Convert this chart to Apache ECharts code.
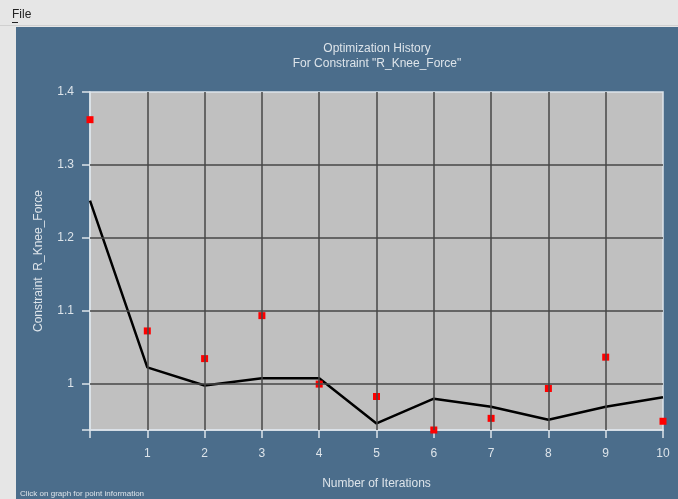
<!DOCTYPE html>
<html>
<head>
<meta charset="utf-8">
<script src="https://cdn.jsdelivr.net/npm/echarts@6/dist/echarts.min.js"></script>
<style>
  html, body { margin: 0; padding: 0; background: #e6e6e6; }
  #chart { width: 678px; height: 499px; }
</style>
</head>
<body>
<div id="chart"></div>
<script>
// iteration numbers on the x axis
var iterations = [0, 1, 2, 3, 4, 5, 6, 7, 8, 9, 10]
// black line
var lineValues = [1.251, 1.022, 0.997, 1.007, 1.007, 0.945, 0.979, 0.968, 0.950, 0.968, 0.981]
// red squares
var pointValues = [1.362, 1.072, 1.034, 1.093, 0.999, 0.982, 0.936, 0.952, 0.993, 1.036, 0.948]
// y axis
var yTicks = [0.936, 1.0, 1.1, 1.2, 1.3, 1.4]
var yLabels = [1.0, 1.1, 1.2, 1.3, 1.4]
var yGrid = [1.0, 1.1, 1.2, 1.3]
var xGrid = [1, 2, 3, 4, 5, 6, 7, 8, 9]

var panel = '#4b6d8b'
var light = '#dde4ea'
var font = 'Liberation Sans'

var chart = echarts.init(document.getElementById('chart'))

var gridLines = []
xGrid.forEach(function (x) { gridLines.push({ xAxis: x }) })
yGrid.forEach(function (y) { gridLines.push({ yAxis: y }) })

chart.setOption({
  animation: false,
  backgroundColor: '#e6e6e6',
  textStyle: { fontFamily: font },
  graphic: [
    // blue panel behind everything
    {
      type: 'rect', z: -10, silent: true,
      shape: { x: 16, y: 27, width: 662, height: 472 },
      style: { fill: panel }
    },
    {
      type: 'line', z: -10, silent: true,
      shape: { x1: 0, y1: 25.5, x2: 678, y2: 25.5 },
      style: { stroke: '#d0d0d0', lineWidth: 1 }
    },
    {
      type: 'text', left: 12, top: 9,
      style: { text: 'File', fill: '#222', font: '12px "Liberation Sans"' }
    },
    {
      type: 'rect', silent: true,
      shape: { x: 12, y: 22, width: 6, height: 1 },
      style: { fill: '#222' }
    },
    {
      type: 'text', left: 20, top: 490,
      style: { text: 'Click on graph for point information', fill: light, font: '8px "Liberation Sans"' }
    }
  ],
  title: {
    text: 'Optimization History\nFor Constraint "R_Knee_Force"',
    left: 372,
    top: 36,
    textAlign: 'center',
    textStyle: {
      color: light,
      fontSize: 12,
      fontWeight: 'normal',
      lineHeight: 15,
      fontFamily: font
    }
  },
  grid: {
    left: 90,
    right: 15,
    top: 92,
    bottom: 69,
    show: true,
    backgroundColor: '#c0c0c0',
    borderColor: light,
    borderWidth: 1.5
  },
  xAxis: {
    type: 'value',
    min: 0,
    max: 10,
    interval: 1,
    name: 'Number of Iterations',
    nameLocation: 'middle',
    nameGap: 48,
    nameTextStyle: { color: light, fontSize: 12, fontFamily: font },
    axisLine: { lineStyle: { color: light, width: 1.5 } },
    axisTick: { length: 8, lineStyle: { color: light, width: 1.5 } },
    axisLabel: {
      color: light,
      fontSize: 12,
      margin: 18,
      formatter: function (v) { return v === 0 ? '' : String(v) }
    },
    splitLine: { show: false }
  },
  yAxis: {
    type: 'value',
    min: 0.936,
    max: 1.4,
    name: 'Constraint  R_Knee_Force',
    nameLocation: 'middle',
    nameGap: 45,
    nameTextStyle: { color: light, fontSize: 12, fontFamily: font },
    axisLine: { show: true, lineStyle: { color: light, width: 1.5 } },
    axisTick: { show: true, length: 8, customValues: yTicks, lineStyle: { color: light, width: 1.5 } },
    axisLabel: {
      color: light,
      fontSize: 12,
      margin: 16,
      customValues: yLabels,
      formatter: function (v) { return v === 1 ? '1' : v.toFixed(1) }
    },
    splitLine: { show: false }
  },
  series: [
    {
      // grid lines through the axes' own scales
      type: 'line',
      data: [],
      z: 1,
      silent: true,
      markLine: {
        silent: true,
        symbol: ['none', 'none'],
        label: { show: false },
        lineStyle: { color: '#474747', type: 'solid', width: 1.5 },
        data: gridLines
      }
    },
    {
      type: 'line',
      z: 3,
      symbol: 'none',
      lineStyle: { color: '#000', width: 2.5 },
      data: iterations.map(function (x, i) { return [x, lineValues[i]] })
    },
    {
      type: 'scatter',
      z: 4,
      symbol: 'rect',
      symbolSize: 7,
      itemStyle: { color: '#ff0000', opacity: 1 },
      data: iterations.map(function (x, i) { return [x, pointValues[i]] })
    }
  ]
})
</script>
</body>
</html>
